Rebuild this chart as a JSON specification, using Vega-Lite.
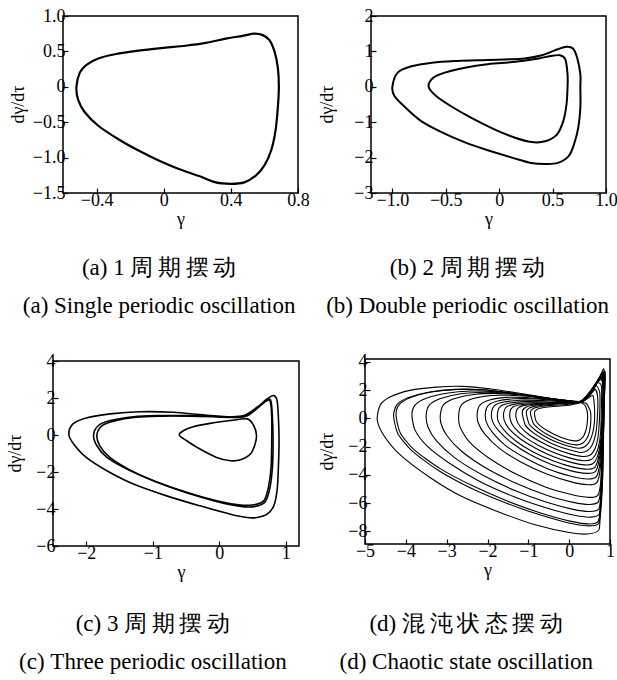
{
  "$schema": "https://vega.github.io/schema/vega-lite/v6.json",
  "padding": {"left": 6, "top": 6, "right": 0, "bottom": 0},
  "background": "white",
  "datasets": {
    "a": [
      {"c":0,"x":-0.52,"y":0},{"c":0,"x":-0.50,"y":0.2},{"c":0,"x":-0.46,"y":0.31},{"c":0,"x":-0.39,"y":0.40},{"c":0,"x":-0.29,"y":0.46},{"c":0,"x":-0.15,"y":0.51},{"c":0,"x":0,"y":0.55},{"c":0,"x":0.13,"y":0.58},{"c":0,"x":0.25,"y":0.62},{"c":0,"x":0.37,"y":0.68},{"c":0,"x":0.47,"y":0.72},{"c":0,"x":0.54,"y":0.75},{"c":0,"x":0.59,"y":0.73},{"c":0,"x":0.63,"y":0.66},{"c":0,"x":0.66,"y":0.5},{"c":0,"x":0.68,"y":0.27},{"c":0,"x":0.686,"y":0},{"c":0,"x":0.68,"y":-0.29},{"c":0,"x":0.666,"y":-0.62},{"c":0,"x":0.64,"y":-0.9},{"c":0,"x":0.6,"y":-1.11},{"c":0,"x":0.55,"y":-1.25},{"c":0,"x":0.48,"y":-1.35},{"c":0,"x":0.4,"y":-1.37},{"c":0,"x":0.31,"y":-1.35},{"c":0,"x":0.21,"y":-1.26},{"c":0,"x":0.09,"y":-1.16},{"c":0,"x":-0.03,"y":-1.04},{"c":0,"x":-0.15,"y":-0.9},{"c":0,"x":-0.27,"y":-0.74},{"c":0,"x":-0.39,"y":-0.55},{"c":0,"x":-0.47,"y":-0.36},{"c":0,"x":-0.51,"y":-0.18}
    ],
    "b": [
      {"c":0,"x":-1.0,"y":0},{"c":0,"x":-0.95,"y":0.4},{"c":0,"x":-0.82,"y":0.58},{"c":0,"x":-0.63,"y":0.68},{"c":0,"x":-0.42,"y":0.73},{"c":0,"x":-0.2,"y":0.75},{"c":0,"x":0.05,"y":0.77},{"c":0,"x":0.24,"y":0.8},{"c":0,"x":0.4,"y":0.89},{"c":0,"x":0.52,"y":1.03},{"c":0,"x":0.63,"y":1.13},{"c":0,"x":0.69,"y":1.08},{"c":0,"x":0.73,"y":0.82},{"c":0,"x":0.76,"y":0.35},{"c":0,"x":0.76,"y":0},{"c":0,"x":0.76,"y":-0.59},{"c":0,"x":0.74,"y":-1.16},{"c":0,"x":0.7,"y":-1.63},{"c":0,"x":0.65,"y":-1.96},{"c":0,"x":0.55,"y":-2.15},{"c":0,"x":0.43,"y":-2.18},{"c":0,"x":0.3,"y":-2.15},{"c":0,"x":0.12,"y":-2.0},{"c":0,"x":-0.1,"y":-1.8},{"c":0,"x":-0.32,"y":-1.57},{"c":0,"x":-0.54,"y":-1.28},{"c":0,"x":-0.73,"y":-0.97},{"c":0,"x":-0.88,"y":-0.58},{"c":0,"x":-0.98,"y":-0.26},
      {"c":1,"x":-0.66,"y":0},{"c":1,"x":-0.62,"y":0.25},{"c":1,"x":-0.51,"y":0.4},{"c":1,"x":-0.32,"y":0.54},{"c":1,"x":-0.13,"y":0.63},{"c":1,"x":0.05,"y":0.68},{"c":1,"x":0.21,"y":0.73},{"c":1,"x":0.37,"y":0.8},{"c":1,"x":0.48,"y":0.87},{"c":1,"x":0.57,"y":0.89},{"c":1,"x":0.62,"y":0.77},{"c":1,"x":0.64,"y":0.35},{"c":1,"x":0.64,"y":0},{"c":1,"x":0.63,"y":-0.5},{"c":1,"x":0.6,"y":-0.97},{"c":1,"x":0.54,"y":-1.35},{"c":1,"x":0.43,"y":-1.54},{"c":1,"x":0.3,"y":-1.56},{"c":1,"x":0.15,"y":-1.44},{"c":1,"x":-0.04,"y":-1.21},{"c":1,"x":-0.26,"y":-0.88},{"c":1,"x":-0.45,"y":-0.55},{"c":1,"x":-0.59,"y":-0.26}
    ],
    "c": [
      {"c":0,"x":-2.26,"y":0},{"c":0,"x":-2.2,"y":0.6},{"c":0,"x":-2.0,"y":0.92},{"c":0,"x":-1.64,"y":1.14},{"c":0,"x":-1.19,"y":1.26},{"c":0,"x":-0.69,"y":1.23},{"c":0,"x":-0.29,"y":1.1},{"c":0,"x":0.12,"y":0.99},{"c":0,"x":0.37,"y":1.05},{"c":0,"x":0.57,"y":1.5},{"c":0,"x":0.72,"y":1.95},{"c":0,"x":0.82,"y":2.13},{"c":0,"x":0.87,"y":1.86},{"c":0,"x":0.89,"y":0.96},{"c":0,"x":0.9,"y":-0.3},{"c":0,"x":0.89,"y":-1.75},{"c":0,"x":0.87,"y":-3.0},{"c":0,"x":0.82,"y":-3.83},{"c":0,"x":0.72,"y":-4.28},{"c":0,"x":0.57,"y":-4.46},{"c":0,"x":0.42,"y":-4.46},{"c":0,"x":0.17,"y":-4.28},{"c":0,"x":-0.29,"y":-3.83},{"c":0,"x":-0.79,"y":-3.29},{"c":0,"x":-1.29,"y":-2.65},{"c":0,"x":-1.69,"y":-1.93},{"c":0,"x":-2.0,"y":-1.21},{"c":0,"x":-2.17,"y":-0.58},
      {"c":1,"x":-1.89,"y":0},{"c":1,"x":-1.82,"y":0.5},{"c":1,"x":-1.64,"y":0.78},{"c":1,"x":-1.29,"y":0.99},{"c":1,"x":-0.89,"y":1.05},{"c":1,"x":-0.49,"y":1.05},{"c":1,"x":-0.09,"y":1.01},{"c":1,"x":0.22,"y":0.96},{"c":1,"x":0.42,"y":1.05},{"c":1,"x":0.59,"y":1.5},{"c":1,"x":0.72,"y":1.86},{"c":1,"x":0.77,"y":1.77},{"c":1,"x":0.79,"y":0.96},{"c":1,"x":0.79,"y":-0.3},{"c":1,"x":0.78,"y":-1.75},{"c":1,"x":0.74,"y":-2.83},{"c":1,"x":0.67,"y":-3.56},{"c":1,"x":0.52,"y":-3.77},{"c":1,"x":0.32,"y":-3.79},{"c":1,"x":-0.04,"y":-3.56},{"c":1,"x":-0.49,"y":-3.1},{"c":1,"x":-0.99,"y":-2.47},{"c":1,"x":-1.39,"y":-1.84},{"c":1,"x":-1.69,"y":-1.21},{"c":1,"x":-1.84,"y":-0.58},
      {"c":2,"x":-1.84,"y":0},{"c":2,"x":-1.77,"y":0.48},{"c":2,"x":-1.59,"y":0.75},{"c":2,"x":-1.25,"y":0.96},{"c":2,"x":-0.86,"y":1.02},{"c":2,"x":-0.47,"y":1.02},{"c":2,"x":-0.08,"y":0.99},{"c":2,"x":0.22,"y":0.95},{"c":2,"x":0.42,"y":1.04},{"c":2,"x":0.6,"y":1.55},{"c":2,"x":0.73,"y":1.92},{"c":2,"x":0.78,"y":1.8},{"c":2,"x":0.8,"y":0.96},{"c":2,"x":0.81,"y":-0.3},{"c":2,"x":0.8,"y":-1.75},{"c":2,"x":0.76,"y":-2.9},{"c":2,"x":0.69,"y":-3.62},{"c":2,"x":0.54,"y":-3.86},{"c":2,"x":0.33,"y":-3.86},{"c":2,"x":-0.03,"y":-3.6},{"c":2,"x":-0.48,"y":-3.14},{"c":2,"x":-0.97,"y":-2.5},{"c":2,"x":-1.36,"y":-1.86},{"c":2,"x":-1.65,"y":-1.2},{"c":2,"x":-1.8,"y":-0.56},
      {"c":3,"x":-0.6,"y":0},{"c":3,"x":-0.54,"y":0.23},{"c":3,"x":-0.39,"y":0.45},{"c":3,"x":-0.14,"y":0.63},{"c":3,"x":0.17,"y":0.78},{"c":3,"x":0.42,"y":0.87},{"c":3,"x":0.52,"y":0.5},{"c":3,"x":0.56,"y":0},{"c":3,"x":0.54,"y":-0.49},{"c":3,"x":0.47,"y":-1.03},{"c":3,"x":0.32,"y":-1.34},{"c":3,"x":0.17,"y":-1.39},{"c":3,"x":-0.04,"y":-1.21},{"c":3,"x":-0.29,"y":-0.76},{"c":3,"x":-0.49,"y":-0.31}
    ],
    "d": [
      {"c":1,"x":-4.70,"y":-0.10},{"c":1,"x":-4.63,"y":0.93},{"c":1,"x":-4.39,"y":1.51},{"c":1,"x":-3.90,"y":1.98},{"c":1,"x":-3.25,"y":2.21},{"c":1,"x":-2.60,"y":2.26},{"c":1,"x":-1.95,"y":2.09},{"c":1,"x":-1.30,"y":1.81},{"c":1,"x":-0.65,"y":1.51},{"c":1,"x":-0.08,"y":1.21},{"c":1,"x":0.24,"y":1.16},{"c":1,"x":0.49,"y":1.63},{"c":1,"x":0.69,"y":2.56},{"c":1,"x":0.85,"y":3.50},{"c":1,"x":0.84,"y":2.0},{"c":1,"x":0.81,"y":0.00},{"c":1,"x":0.80,"y":-3.95},{"c":1,"x":0.76,"y":-6.28},{"c":1,"x":0.73,"y":-7.90},{"c":1,"x":0.45,"y":-8.19},{"c":1,"x":0.00,"y":-8.09},{"c":1,"x":-0.81,"y":-7.56},{"c":1,"x":-1.63,"y":-6.74},{"c":1,"x":-2.60,"y":-5.58},{"c":1,"x":-3.41,"y":-4.19},{"c":1,"x":-4.15,"y":-2.56},{"c":1,"x":-4.55,"y":-1.16},
      {"c":2,"x":-4.30,"y":0.20},{"c":2,"x":-4.22,"y":0.95},{"c":2,"x":-3.95,"y":1.45},{"c":2,"x":-3.45,"y":1.85},{"c":2,"x":-2.80,"y":2.05},{"c":2,"x":-2.10,"y":2.02},{"c":2,"x":-1.40,"y":1.78},{"c":2,"x":-0.70,"y":1.48},{"c":2,"x":-0.05,"y":1.22},{"c":2,"x":0.28,"y":1.15},{"c":2,"x":0.52,"y":1.70},{"c":2,"x":0.72,"y":2.70},{"c":2,"x":0.88,"y":3.30},{"c":2,"x":0.86,"y":1.5},{"c":2,"x":0.84,"y":-1.0},{"c":2,"x":0.82,"y":-4.0},{"c":2,"x":0.78,"y":-6.4},{"c":2,"x":0.72,"y":-7.45},{"c":2,"x":0.50,"y":-7.62},{"c":2,"x":0.05,"y":-7.45},{"c":2,"x":-0.70,"y":-6.85},{"c":2,"x":-1.50,"y":-6.05},{"c":2,"x":-2.40,"y":-4.95},{"c":2,"x":-3.20,"y":-3.70},{"c":2,"x":-3.85,"y":-2.30},{"c":2,"x":-4.20,"y":-1.05},
      {"c":3,"x":-4.24,"y":0.25},{"c":3,"x":-4.16,"y":0.97},{"c":3,"x":-3.88,"y":1.47},{"c":3,"x":-3.38,"y":1.86},{"c":3,"x":-2.75,"y":2.04},{"c":3,"x":-2.05,"y":2.00},{"c":3,"x":-1.35,"y":1.76},{"c":3,"x":-0.68,"y":1.46},{"c":3,"x":-0.04,"y":1.21},{"c":3,"x":0.28,"y":1.16},{"c":3,"x":0.53,"y":1.75},{"c":3,"x":0.73,"y":2.75},{"c":3,"x":0.87,"y":3.20},{"c":3,"x":0.86,"y":1.2},{"c":3,"x":0.84,"y":-1.5},{"c":3,"x":0.82,"y":-4.2},{"c":3,"x":0.77,"y":-6.3},{"c":3,"x":0.71,"y":-7.30},{"c":3,"x":0.50,"y":-7.48},{"c":3,"x":0.05,"y":-7.30},{"c":3,"x":-0.70,"y":-6.70},{"c":3,"x":-1.50,"y":-5.88},{"c":3,"x":-2.35,"y":-4.80},{"c":3,"x":-3.15,"y":-3.58},{"c":3,"x":-3.80,"y":-2.22},{"c":3,"x":-4.14,"y":-1.00},
      {"c":4,"x":-3.85,"y":0.25},{"c":4,"x":-3.77,"y":0.95},{"c":4,"x":-3.50,"y":1.42},{"c":4,"x":-3.00,"y":1.78},{"c":4,"x":-2.40,"y":1.93},{"c":4,"x":-1.80,"y":1.88},{"c":4,"x":-1.15,"y":1.65},{"c":4,"x":-0.50,"y":1.40},{"c":4,"x":0.05,"y":1.20},{"c":4,"x":0.30,"y":1.18},{"c":4,"x":0.55,"y":1.90},{"c":4,"x":0.75,"y":2.90},{"c":4,"x":0.87,"y":3.10},{"c":4,"x":0.86,"y":1.0},{"c":4,"x":0.83,"y":-2.0},{"c":4,"x":0.80,"y":-5.0},{"c":4,"x":0.74,"y":-6.75},{"c":4,"x":0.52,"y":-7.00},{"c":4,"x":0.10,"y":-6.85},{"c":4,"x":-0.55,"y":-6.35},{"c":4,"x":-1.35,"y":-5.55},{"c":4,"x":-2.20,"y":-4.45},{"c":4,"x":-2.95,"y":-3.15},{"c":4,"x":-3.50,"y":-1.90},{"c":4,"x":-3.78,"y":-0.80},
      {"c":5,"x":-3.50,"y":0.30},{"c":5,"x":-3.42,"y":0.95},{"c":5,"x":-3.15,"y":1.40},{"c":5,"x":-2.65,"y":1.74},{"c":5,"x":-2.05,"y":1.85},{"c":5,"x":-1.45,"y":1.76},{"c":5,"x":-0.85,"y":1.55},{"c":5,"x":-0.25,"y":1.32},{"c":5,"x":0.15,"y":1.18},{"c":5,"x":0.36,"y":1.25},{"c":5,"x":0.58,"y":2.10},{"c":5,"x":0.78,"y":3.00},{"c":5,"x":0.86,"y":2.80},{"c":5,"x":0.85,"y":0.5},{"c":5,"x":0.82,"y":-2.5},{"c":5,"x":0.79,"y":-5.0},{"c":5,"x":0.73,"y":-6.40},{"c":5,"x":0.50,"y":-6.60},{"c":5,"x":0.10,"y":-6.45},{"c":5,"x":-0.55,"y":-5.95},{"c":5,"x":-1.30,"y":-5.15},{"c":5,"x":-2.10,"y":-4.05},{"c":5,"x":-2.80,"y":-2.80},{"c":5,"x":-3.25,"y":-1.60},{"c":5,"x":-3.46,"y":-0.60},
      {"c":6,"x":-3.15,"y":0.35},{"c":6,"x":-3.07,"y":0.98},{"c":6,"x":-2.80,"y":1.40},{"c":6,"x":-2.30,"y":1.70},{"c":6,"x":-1.75,"y":1.76},{"c":6,"x":-1.15,"y":1.65},{"c":6,"x":-0.55,"y":1.45},{"c":6,"x":0.00,"y":1.25},{"c":6,"x":0.30,"y":1.20},{"c":6,"x":0.52,"y":1.85},{"c":6,"x":0.72,"y":2.75},{"c":6,"x":0.84,"y":3.20},{"c":6,"x":0.84,"y":1.0},{"c":6,"x":0.81,"y":-2.0},{"c":6,"x":0.78,"y":-4.6},{"c":6,"x":0.72,"y":-5.90},{"c":6,"x":0.50,"y":-6.10},{"c":6,"x":0.10,"y":-5.95},{"c":6,"x":-0.55,"y":-5.45},{"c":6,"x":-1.30,"y":-4.60},{"c":6,"x":-2.05,"y":-3.50},{"c":6,"x":-2.65,"y":-2.30},{"c":6,"x":-3.00,"y":-1.20},{"c":6,"x":-3.14,"y":-0.35},
      {"c":7,"x":-2.70,"y":0.40},{"c":7,"x":-2.62,"y":1.00},{"c":7,"x":-2.35,"y":1.40},{"c":7,"x":-1.90,"y":1.62},{"c":7,"x":-1.35,"y":1.62},{"c":7,"x":-0.80,"y":1.50},{"c":7,"x":-0.25,"y":1.32},{"c":7,"x":0.15,"y":1.20},{"c":7,"x":0.38,"y":1.28},{"c":7,"x":0.60,"y":2.20},{"c":7,"x":0.80,"y":2.90},{"c":7,"x":0.86,"y":2.40},{"c":7,"x":0.84,"y":0.0},{"c":7,"x":0.81,"y":-2.5},{"c":7,"x":0.77,"y":-4.6},{"c":7,"x":0.70,"y":-5.45},{"c":7,"x":0.48,"y":-5.60},{"c":7,"x":0.05,"y":-5.40},{"c":7,"x":-0.60,"y":-4.85},{"c":7,"x":-1.30,"y":-3.95},{"c":7,"x":-1.95,"y":-2.85},{"c":7,"x":-2.45,"y":-1.65},{"c":7,"x":-2.68,"y":-0.55},
      {"c":8,"x":-2.25,"y":0.40},{"c":8,"x":-2.18,"y":0.95},{"c":8,"x":-1.95,"y":1.30},{"c":8,"x":-1.55,"y":1.48},{"c":8,"x":-1.05,"y":1.47},{"c":8,"x":-0.55,"y":1.35},{"c":8,"x":-0.05,"y":1.22},{"c":8,"x":0.25,"y":1.18},{"c":8,"x":0.48,"y":1.75},{"c":8,"x":0.70,"y":2.60},{"c":8,"x":0.82,"y":3.0},{"c":8,"x":0.83,"y":1.0},{"c":8,"x":0.80,"y":-1.5},{"c":8,"x":0.76,"y":-3.6},{"c":8,"x":0.68,"y":-4.55},{"c":8,"x":0.45,"y":-4.70},{"c":8,"x":0.05,"y":-4.50},{"c":8,"x":-0.55,"y":-3.95},{"c":8,"x":-1.15,"y":-3.15},{"c":8,"x":-1.70,"y":-2.15},{"c":8,"x":-2.07,"y":-1.10},{"c":8,"x":-2.23,"y":-0.30},
      {"c":9,"x":-2.05,"y":0.42},{"c":9,"x":-1.98,"y":0.92},{"c":9,"x":-1.75,"y":1.22},{"c":9,"x":-1.35,"y":1.38},{"c":9,"x":-0.90,"y":1.38},{"c":9,"x":-0.40,"y":1.28},{"c":9,"x":0.05,"y":1.18},{"c":9,"x":0.30,"y":1.20},{"c":9,"x":0.52,"y":1.95},{"c":9,"x":0.74,"y":2.80},{"c":9,"x":0.84,"y":2.6},{"c":9,"x":0.82,"y":0.5},{"c":9,"x":0.79,"y":-1.8},{"c":9,"x":0.74,"y":-3.4},{"c":9,"x":0.66,"y":-4.15},{"c":9,"x":0.44,"y":-4.30},{"c":9,"x":0.05,"y":-4.10},{"c":9,"x":-0.50,"y":-3.60},{"c":9,"x":-1.05,"y":-2.85},{"c":9,"x":-1.55,"y":-1.95},{"c":9,"x":-1.88,"y":-1.00},{"c":9,"x":-2.03,"y":-0.25},
      {"c":10,"x":-1.90,"y":0.45},{"c":10,"x":-1.83,"y":0.90},{"c":10,"x":-1.60,"y":1.15},{"c":10,"x":-1.20,"y":1.28},{"c":10,"x":-0.75,"y":1.27},{"c":10,"x":-0.30,"y":1.20},{"c":10,"x":0.10,"y":1.15},{"c":10,"x":0.35,"y":1.22},{"c":10,"x":0.58,"y":2.10},{"c":10,"x":0.78,"y":2.90},{"c":10,"x":0.85,"y":2.2},{"c":10,"x":0.82,"y":0.0},{"c":10,"x":0.78,"y":-1.9},{"c":10,"x":0.72,"y":-3.15},{"c":10,"x":0.64,"y":-3.78},{"c":10,"x":0.42,"y":-3.90},{"c":10,"x":0.05,"y":-3.72},{"c":10,"x":-0.45,"y":-3.25},{"c":10,"x":-0.95,"y":-2.58},{"c":10,"x":-1.40,"y":-1.75},{"c":10,"x":-1.73,"y":-0.88},{"c":10,"x":-1.88,"y":-0.20},
      {"c":11,"x":-1.75,"y":0.45},{"c":11,"x":-1.68,"y":0.85},{"c":11,"x":-1.45,"y":1.08},{"c":11,"x":-1.08,"y":1.18},{"c":11,"x":-0.65,"y":1.17},{"c":11,"x":-0.22,"y":1.12},{"c":11,"x":0.15,"y":1.10},{"c":11,"x":0.40,"y":1.30},{"c":11,"x":0.62,"y":2.30},{"c":11,"x":0.80,"y":3.10},{"c":11,"x":0.84,"y":1.8},{"c":11,"x":0.81,"y":-0.5},{"c":11,"x":0.77,"y":-2.0},{"c":11,"x":0.70,"y":-3.0},{"c":11,"x":0.62,"y":-3.50},{"c":11,"x":0.40,"y":-3.60},{"c":11,"x":0.05,"y":-3.42},{"c":11,"x":-0.40,"y":-3.00},{"c":11,"x":-0.88,"y":-2.38},{"c":11,"x":-1.30,"y":-1.62},{"c":11,"x":-1.60,"y":-0.82},{"c":11,"x":-1.74,"y":-0.18},
      {"c":12,"x":-1.60,"y":0.45},{"c":12,"x":-1.53,"y":0.82},{"c":12,"x":-1.30,"y":1.02},{"c":12,"x":-0.95,"y":1.10},{"c":12,"x":-0.55,"y":1.10},{"c":12,"x":-0.15,"y":1.08},{"c":12,"x":0.20,"y":1.10},{"c":12,"x":0.42,"y":1.40},{"c":12,"x":0.64,"y":2.40},{"c":12,"x":0.80,"y":2.70},{"c":12,"x":0.83,"y":1.2},{"c":12,"x":0.80,"y":-0.8},{"c":12,"x":0.75,"y":-2.0},{"c":12,"x":0.68,"y":-2.80},{"c":12,"x":0.58,"y":-3.22},{"c":12,"x":0.38,"y":-3.30},{"c":12,"x":0.05,"y":-3.12},{"c":12,"x":-0.38,"y":-2.72},{"c":12,"x":-0.80,"y":-2.15},{"c":12,"x":-1.20,"y":-1.45},{"c":12,"x":-1.47,"y":-0.75},{"c":12,"x":-1.59,"y":-0.15},
      {"c":13,"x":-1.45,"y":0.45},{"c":13,"x":-1.38,"y":0.80},{"c":13,"x":-1.15,"y":0.98},{"c":13,"x":-0.80,"y":1.05},{"c":13,"x":-0.42,"y":1.08},{"c":13,"x":-0.05,"y":1.12},{"c":13,"x":0.25,"y":1.15},{"c":13,"x":0.45,"y":1.50},{"c":13,"x":0.66,"y":2.50},{"c":13,"x":0.79,"y":2.30},{"c":13,"x":0.79,"y":0.8},{"c":13,"x":0.77,"y":-1.0},{"c":13,"x":0.72,"y":-2.0},{"c":13,"x":0.64,"y":-2.60},{"c":13,"x":0.54,"y":-2.92},{"c":13,"x":0.35,"y":-3.00},{"c":13,"x":0.03,"y":-2.82},{"c":13,"x":-0.35,"y":-2.45},{"c":13,"x":-0.75,"y":-1.92},{"c":13,"x":-1.10,"y":-1.30},{"c":13,"x":-1.34,"y":-0.66},{"c":13,"x":-1.44,"y":-0.12},
      {"c":14,"x":-1.30,"y":0.45},{"c":14,"x":-1.23,"y":0.78},{"c":14,"x":-1.02,"y":0.95},{"c":14,"x":-0.68,"y":1.02},{"c":14,"x":-0.32,"y":1.06},{"c":14,"x":0.02,"y":1.10},{"c":14,"x":0.27,"y":1.15},{"c":14,"x":0.48,"y":1.60},{"c":14,"x":0.66,"y":2.30},{"c":14,"x":0.75,"y":1.8},{"c":14,"x":0.75,"y":0.5},{"c":14,"x":0.72,"y":-1.0},{"c":14,"x":0.67,"y":-1.85},{"c":14,"x":0.59,"y":-2.38},{"c":14,"x":0.49,"y":-2.64},{"c":14,"x":0.32,"y":-2.70},{"c":14,"x":0.02,"y":-2.52},{"c":14,"x":-0.33,"y":-2.18},{"c":14,"x":-0.68,"y":-1.70},{"c":14,"x":-0.99,"y":-1.15},{"c":14,"x":-1.20,"y":-0.58},{"c":14,"x":-1.29,"y":-0.10},
      {"c":15,"x":-1.15,"y":0.42},{"c":15,"x":-1.08,"y":0.75},{"c":15,"x":-0.88,"y":0.92},{"c":15,"x":-0.55,"y":1.02},{"c":15,"x":-0.20,"y":1.08},{"c":15,"x":0.10,"y":1.13},{"c":15,"x":0.27,"y":1.16},{"c":15,"x":0.48,"y":1.55},{"c":15,"x":0.64,"y":2.05},{"c":15,"x":0.70,"y":1.40},{"c":15,"x":0.69,"y":0.00},{"c":15,"x":0.65,"y":-1.10},{"c":15,"x":0.57,"y":-1.85},{"c":15,"x":0.45,"y":-2.28},{"c":15,"x":0.28,"y":-2.42},{"c":15,"x":0.02,"y":-2.25},{"c":15,"x":-0.30,"y":-1.95},{"c":15,"x":-0.62,"y":-1.50},{"c":15,"x":-0.89,"y":-1.00},{"c":15,"x":-1.07,"y":-0.50},
      {"c":16,"x":-1.05,"y":0.42},{"c":16,"x":-0.98,"y":0.72},{"c":16,"x":-0.78,"y":0.88},{"c":16,"x":-0.47,"y":0.98},{"c":16,"x":-0.15,"y":1.05},{"c":16,"x":0.12,"y":1.12},{"c":16,"x":0.28,"y":1.16},{"c":16,"x":0.45,"y":1.40},{"c":16,"x":0.58,"y":1.60},{"c":16,"x":0.62,"y":0.80},{"c":16,"x":0.62,"y":-0.20},{"c":16,"x":0.58,"y":-1.00},{"c":16,"x":0.50,"y":-1.62},{"c":16,"x":0.38,"y":-2.02},{"c":16,"x":0.22,"y":-2.12},{"c":16,"x":0.02,"y":-2.00},{"c":16,"x":-0.28,"y":-1.72},{"c":16,"x":-0.57,"y":-1.32},{"c":16,"x":-0.81,"y":-0.88},{"c":16,"x":-0.98,"y":-0.40},
      {"c":17,"x":-0.95,"y":0.42},{"c":17,"x":-0.88,"y":0.70},{"c":17,"x":-0.68,"y":0.84},{"c":17,"x":-0.38,"y":0.92},{"c":17,"x":-0.08,"y":0.98},{"c":17,"x":0.15,"y":1.08},{"c":17,"x":0.28,"y":1.14},{"c":17,"x":0.42,"y":1.05},{"c":17,"x":0.52,"y":0.50},{"c":17,"x":0.53,"y":-0.20},{"c":17,"x":0.50,"y":-0.90},{"c":17,"x":0.43,"y":-1.45},{"c":17,"x":0.32,"y":-1.78},{"c":17,"x":0.18,"y":-1.88},{"c":17,"x":0.00,"y":-1.80},{"c":17,"x":-0.25,"y":-1.55},{"c":17,"x":-0.50,"y":-1.20},{"c":17,"x":-0.72,"y":-0.80},{"c":17,"x":-0.88,"y":-0.35},
      {"c":18,"x":-0.85,"y":0.40},{"c":18,"x":-0.78,"y":0.65},{"c":18,"x":-0.58,"y":0.78},{"c":18,"x":-0.30,"y":0.85},{"c":18,"x":-0.02,"y":0.92},{"c":18,"x":0.20,"y":1.05},{"c":18,"x":0.30,"y":1.10},{"c":18,"x":0.40,"y":0.85},{"c":18,"x":0.45,"y":0.30},{"c":18,"x":0.44,"y":-0.40},{"c":18,"x":0.40,"y":-0.95},{"c":18,"x":0.33,"y":-1.35},{"c":18,"x":0.22,"y":-1.58},{"c":18,"x":0.08,"y":-1.58},{"c":18,"x":-0.10,"y":-1.45},{"c":18,"x":-0.32,"y":-1.20},{"c":18,"x":-0.52,"y":-0.90},{"c":18,"x":-0.70,"y":-0.55},{"c":18,"x":-0.81,"y":-0.20}
    ]
  },
  "columns": 2,
  "align": "none",
  "spacing": {"row": 33, "column": 7},
  "concat": [
    {
      "width": 235, "height": 177,
      "data": {"name": "a"},
      "mark": {"type": "line", "interpolate": "cardinal-closed", "color": "black", "strokeWidth": 2.2, "clip": true},
      "encoding": {
        "x": {"field": "x", "type": "quantitative", "scale": {"domain": [-0.6, 0.8], "nice": false, "zero": false},
              "axis": {"title": "γ", "values": [-0.4, 0, 0.4, 0.8], "labelExpr": "datum.value == 0 ? '0' : format(datum.value, '.1f')"}},
        "y": {"field": "y", "type": "quantitative", "scale": {"domain": [-1.5, 1.0], "nice": false, "zero": false},
              "axis": {"title": "dγ/dτ", "values": [-1.5, -1, -0.5, 0, 0.5, 1], "titleX": -45, "titleY": 88, "labelExpr": "datum.value == 0 ? '0' : format(datum.value, '.1f')"}},
        "detail": {"field": "c"},
        "order": {"value": null}
      },
      "title": {"text": ["(a) 1 周\u2009期\u2009摆\u2009动", "(a) Single periodic oscillation"], "offset": 29}
    },
    {
      "width": 235, "height": 177,
      "data": {"name": "b"},
      "mark": {"type": "line", "interpolate": "cardinal-closed", "color": "black", "strokeWidth": 2, "clip": true},
      "encoding": {
        "x": {"field": "x", "type": "quantitative", "scale": {"domain": [-1.2, 1.0], "nice": false, "zero": false},
              "axis": {"title": "γ", "values": [-1, -0.5, 0, 0.5, 1], "labelExpr": "datum.value == 0 ? '0' : format(datum.value, '.1f')"}},
        "y": {"field": "y", "type": "quantitative", "scale": {"domain": [-3, 2], "nice": false, "zero": false},
              "axis": {"title": "dγ/dτ", "values": [-3, -2, -1, 0, 1, 2], "titleX": -44, "titleY": 88, "format": "d"}},
        "detail": {"field": "c"},
        "order": {"value": null}
      },
      "title": {"text": ["(b) 2 周\u2009期\u2009摆\u2009动", "(b) Double periodic oscillation"], "offset": 29}
    },
    {
      "width": 236, "height": 185,
      "view": {"stroke": null},
      "layer": [
        {
          "data": {"values": [{}]},
          "mark": {"type": "rect", "filled": false, "stroke": "black", "strokeWidth": 1.5},
          "encoding": {
            "x": {"datum": -2.5, "type": "quantitative", "scale": {"domain": [-2.3496, 1.2], "nice": false, "zero": false},
                  "axis": {"title": "γ", "values": [-2, -1, 0, 1], "format": "d"}},
            "x2": {"datum": 1.2},
            "y": {"datum": -6, "type": "quantitative", "scale": {"domain": [-6, 4], "nice": false, "zero": false},
                  "axis": {"title": "dγ/dτ", "values": [-6, -4, -2, 0, 2, 4], "offset": 10, "titleX": -38, "titleY": 92, "format": "d"}},
            "y2": {"datum": 4}
          }
        },
        {
          "data": {"name": "c"},
          "mark": {"type": "line", "interpolate": "cardinal-closed", "color": "black", "strokeWidth": 1.6},
          "encoding": {
            "x": {"field": "x", "type": "quantitative", "scale": {"domain": [-2.3496, 1.2], "nice": false, "zero": false},
                  "axis": {"title": "γ", "values": [-2, -1, 0, 1], "format": "d"}},
            "y": {"field": "y", "type": "quantitative", "scale": {"domain": [-6, 4], "nice": false, "zero": false},
                  "axis": {"title": "dγ/dτ", "values": [-6, -4, -2, 0, 2, 4], "offset": 10, "titleX": -38, "titleY": 92, "format": "d"}},
            "detail": {"field": "c"},
            "order": {"value": null}
          }
        }
      ],
      "title": {"text": ["(c) 3 周\u2009期\u2009摆\u2009动", "(c) Three periodic oscillation"], "offset": 32}
    },
    {
      "width": 245, "height": 185,
      "data": {"name": "d"},
      "mark": {"type": "line", "interpolate": "cardinal-closed", "tension": 0.3, "color": "black", "strokeWidth": 1.1, "clip": true},
      "encoding": {
        "x": {"field": "x", "type": "quantitative", "scale": {"domain": [-5, 1], "nice": false, "zero": false},
              "axis": {"title": "γ", "values": [-5, -4, -3, -2, -1, 0, 1], "format": "d"}},
        "y": {"field": "y", "type": "quantitative", "scale": {"domain": [-8.9, 4.2], "nice": false, "zero": false},
              "axis": {"title": "dγ/dτ", "values": [-8, -6, -4, -2, 0, 2, 4], "titleX": -38, "titleY": 92, "format": "d"}},
        "detail": {"field": "c"},
        "order": {"value": null}
      },
      "title": {"text": ["(d) 混\u2009沌\u2009状\u2009态\u2009摆\u2009动", "(d) Chaotic state oscillation"], "offset": 34}
    }
  ],
  "config": {
    "view": {"stroke": "black", "strokeWidth": 1.5},
    "axis": {
      "domain": false, "grid": false, "ticks": true, "tickSize": -5, "tickColor": "black", "tickWidth": 1.2,
      "labelFont": "Liberation Serif", "labelFontSize": 18, "labelColor": "black", "labelPadding": 3, "labelFlush": false,
      "titleFont": "Liberation Serif", "titleFontSize": 18, "titleFontWeight": "normal", "titleColor": "black"
    },
    "axisX": {"titlePadding": 1},
    "axisY": {"titleAngle": -90, "titleAlign": "center", "titleBaseline": "middle"},
    "title": {
      "orient": "bottom", "frame": "bounds", "anchor": "middle",
      "font": "Liberation Serif", "fontSize": 23, "fontWeight": "normal",
      "color": "black", "lineHeight": 38
    }
  }
}
